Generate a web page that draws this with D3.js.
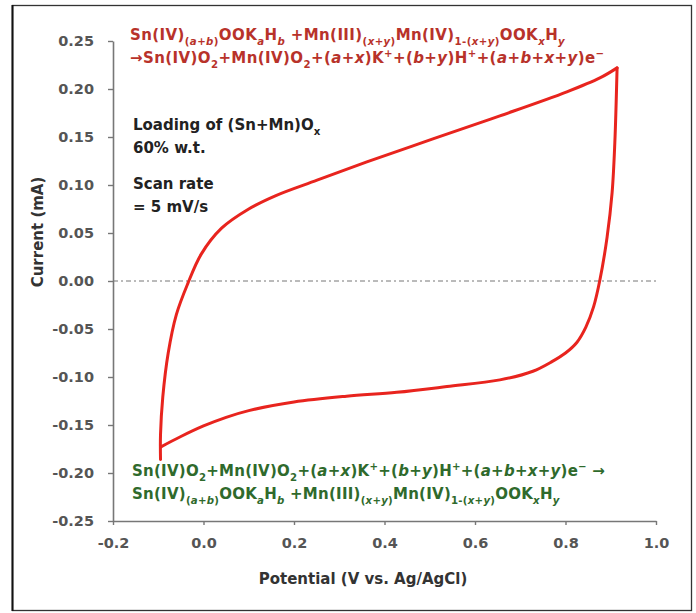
<!DOCTYPE html>
<html>
<head>
<meta charset="utf-8">
<script src="https://cdn.jsdelivr.net/npm/d3@7"></script>
<style>
  body { margin: 0; background: #fff; }
  text { font-family: "DejaVu Sans", Verdana, sans-serif; font-weight: bold; }
</style>
</head>
<body>
<div id="chart"></div>
<script>
// CV loop (V vs Ag/AgCl, mA)
// anodic sweep: from the lower-left start up to the top-right corner
var upPotential = [-0.095, -0.095, -0.090, -0.078, -0.060, -0.035, -0.005, 0.040, 0.100, 0.160, 0.251, 0.361, 0.507, 0.655, 0.803, 0.876, 0.914];
var upCurrent   = [-0.186, -0.160, -0.121, -0.075, -0.035, -0.003, 0.028, 0.055, 0.075, 0.089, 0.105, 0.124, 0.148, 0.172, 0.197, 0.2115, 0.222];
// cathodic sweep: from the corner back down to the lower-left
var downPotential = [0.914, 0.909, 0.903, 0.892, 0.876, 0.862, 0.845, 0.825, 0.800, 0.770, 0.728, 0.655, 0.538, 0.427, 0.316, 0.200, 0.100, 0.050, 0.000, -0.050, -0.095];
var downCurrent   = [0.222, 0.144, 0.092, 0.046, 0.001, -0.027, -0.048, -0.064, -0.075, -0.084, -0.094, -0.103, -0.110, -0.116, -0.120, -0.126, -0.135, -0.142, -0.151, -0.162, -0.173];

var xTicks = [-0.2, 0.0, 0.2, 0.4, 0.6, 0.8, 1.0];
var yTicks = [0.25, 0.20, 0.15, 0.10, 0.05, 0.00, -0.05, -0.10, -0.15, -0.20, -0.25];

var oxidation = [
  "Sn(IV)_{(~a~+~b~)}OOK_{~a~}H_{~b~} +Mn(III)_{(~x~+~y~)}Mn(IV)_{1-(~x~+~y~)}OOK_{~x~}H_{~y~}",
  "→Sn(IV)O_{2}+Mn(IV)O_{2}+(~a~+~x~)K^{+}+(~b~+~y~)H^{+}+(~a~+~b~+~x~+~y~)e^{−}"
];
var reduction = [
  "Sn(IV)O_{2}+Mn(IV)O_{2}+(~a~+~x~)K^{+}+(~b~+~y~)H^{+}+(~a~+~b~+~x~+~y~)e^{−} →",
  "Sn(IV)_{(~a~+~b~)}OOK_{~a~}H_{~b~} +Mn(III)_{(~x~+~y~)}Mn(IV)_{1-(~x~+~y~)}OOK_{~x~}H_{~y~}"
];
var notes = ["Loading of (Sn+Mn)O_{x}", "60% w.t.", "Scan rate", "= 5 mV/s"];

var svgWidth = 696;
var svgHeight = 613;
var margin = { top: 41, right: 40, bottom: 92, left: 113 };
var width = 656 - margin.left;
var height = 521 - margin.top;

var svg = d3.select("#chart")
  .append("svg")
  .attr("width", svgWidth)
  .attr("height", svgHeight);

// outer frame
svg.append("rect")
  .attr("x", 12.5).attr("y", 5.5)
  .attr("width", 679).attr("height", 605)
  .attr("fill", "none")
  .attr("stroke", "#333")
  .attr("stroke-width", 1.3);
svg.append("line")
  .attr("x1", 12.5).attr("x2", 12.5).attr("y1", 5).attr("y2", 611)
  .attr("stroke", "#111").attr("stroke-width", 2);

var chartGroup = svg.append("g")
  .attr("transform", `translate(${margin.left}, ${margin.top})`);

var x = d3.scaleLinear().domain([-0.2, 1.0]).range([0, width]);
var y = d3.scaleLinear().domain([-0.25, 0.25]).range([height, 0]);

// zero reference line
chartGroup.append("line")
  .attr("x1", 0).attr("x2", width)
  .attr("y1", y(0)).attr("y2", y(0))
  .attr("stroke", "#777")
  .attr("stroke-width", 1)
  .attr("stroke-dasharray", "5,3,2,3");

var bottomAxis = d3.axisBottom(x).tickValues(xTicks).tickSizeInner(4).tickSizeOuter(0);
var leftAxis = d3.axisLeft(y).tickValues(yTicks).tickSizeInner(5).tickSizeOuter(0);

var xAxis = chartGroup.append("g")
  .attr("transform", `translate(0, ${height})`)
  .call(bottomAxis);
var yAxis = chartGroup.append("g").call(leftAxis);

[xAxis, yAxis].forEach(function(a) {
  a.select(".domain").attr("stroke", "#777").attr("stroke-width", 1.6);
  a.selectAll(".tick line").attr("stroke", "#777").attr("stroke-width", 1.4);
  a.selectAll(".tick text")
    .attr("fill", "#555")
    .style("font-size", "14.5px")
    .style("font-family", "'DejaVu Sans', Verdana, sans-serif")
    .style("font-weight", "bold");
});
xAxis.selectAll(".tick text").attr("dy", "1.4em")
  .text(d => d < 0 ? "-" + d3.format(".1f")(-d) : d3.format(".1f")(d));
yAxis.selectAll(".tick text").attr("x", -19)
  .text(d => d < 0 ? "-" + d3.format(".2f")(-d) : d3.format(".2f")(d));

// axis titles
svg.append("text")
  .attr("x", 363).attr("y", 584)
  .attr("text-anchor", "middle")
  .attr("fill", "#333")
  .style("font-size", "15px")
  .text("Potential (V vs. Ag/AgCl)");

svg.append("text")
  .attr("transform", "translate(43, 232) rotate(-90)")
  .attr("text-anchor", "middle")
  .attr("fill", "#333")
  .style("font-size", "15px")
  .text("Current (mA)");

// the loop, two sweeps so the turning points stay sharp
var line = d3.line()
  .x(d => x(d[0]))
  .y(d => y(d[1]))
  .curve(d3.curveCatmullRom.alpha(0.5));

var sweeps = [
  d3.range(upPotential.length).map(i => [upPotential[i], upCurrent[i]]),
  d3.range(downPotential.length).map(i => [downPotential[i], downCurrent[i]])
];

chartGroup.selectAll(".sweep")
  .data(sweeps)
  .enter()
  .append("path")
  .attr("class", "sweep")
  .attr("d", line)
  .attr("fill", "none")
  .attr("stroke", "#e8241e")
  .attr("stroke-width", 3)
  .attr("stroke-linejoin", "round")
  .attr("stroke-linecap", "round");

// text with sub/superscripts: _{..} sub, ^{..} sup, ~ toggles italic
function richText(g, px, py, str, size, color, spacing) {
  var t = g.append("text").attr("x", px).attr("y", py).attr("fill", color)
    .style("font-size", size + "px")
    .style("letter-spacing", (spacing || 0) + "px");
  var segs = [], mode = "n", it = false, buf = "";
  var flush = function() { if (buf) { segs.push({ s: buf, mode: mode, it: it }); buf = ""; } };
  for (var i = 0; i < str.length; i++) {
    var c = str[i];
    if ((c === "_" || c === "^") && str[i + 1] === "{") { flush(); mode = c === "_" ? "sub" : "sup"; i++; continue; }
    if (c === "}" && mode !== "n") { flush(); mode = "n"; continue; }
    if (c === "~") { flush(); it = !it; continue; }
    buf += c;
  }
  flush();
  var off = 0;
  segs.forEach(function(s) {
    var target = s.mode === "sub" ? size * 0.3 : s.mode === "sup" ? -size * 0.4 : 0;
    t.append("tspan")
      .attr("dy", target - off)
      .style("font-size", (s.mode === "n" ? size : size * 0.68) + "px")
      .style("font-style", s.it ? "italic" : "normal")
      .text(s.s);
    off = target;
  });
  return t;
}

oxidation.forEach(function(s, i) { richText(svg, 130, 40 + i * 23, s, 15, "#b8322a", 0.4); });
reduction.forEach(function(s, i) { richText(svg, 132, 476 + i * 23, s, 15, "#2f6a2c", 0.25); });
var noteY = [130, 153, 189, 212];
notes.forEach(function(s, i) { richText(svg, 133, noteY[i], s, 15, "#222"); });
</script>
</body>
</html>
